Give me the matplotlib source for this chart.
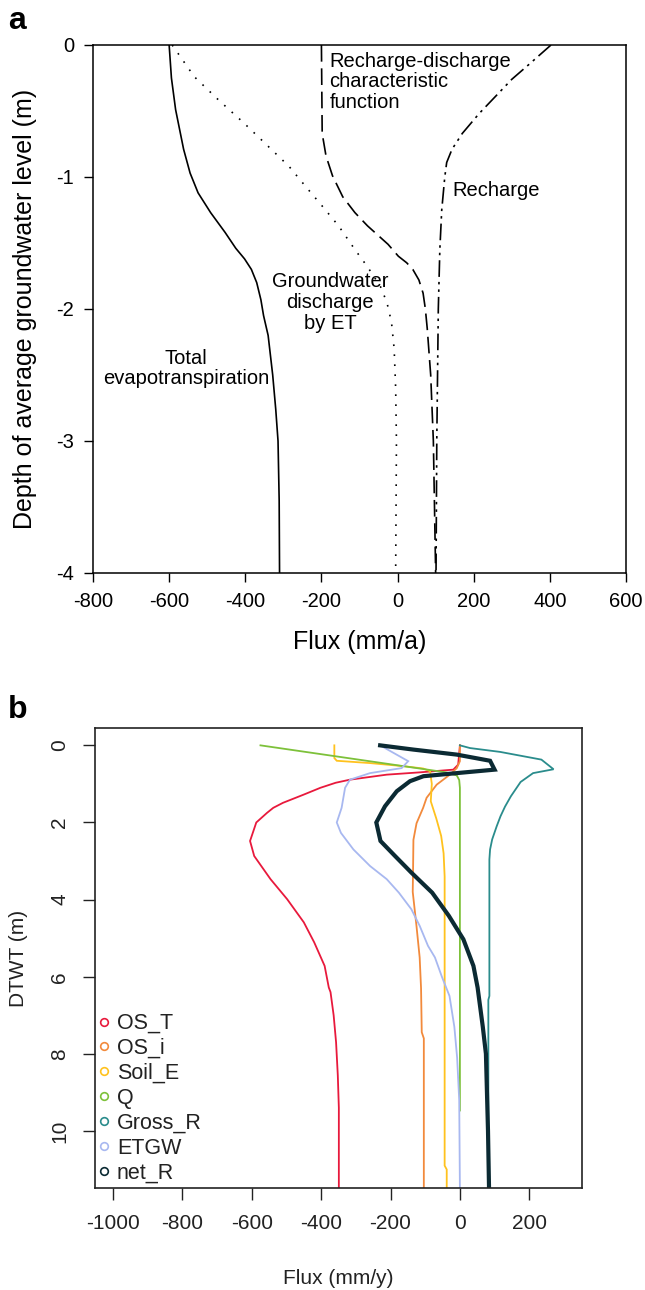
import matplotlib
matplotlib.use("Agg")
import matplotlib.pyplot as plt
from matplotlib.lines import Line2D

plt.rcParams['font.family'] = ['Liberation Sans', 'DejaVu Sans']
plt.rcParams['axes.unicode_minus'] = False

# ---------------- Panel a data ----------------
et_depth = [0, -0.25, -0.49, -0.79, -0.97, -1.12, -1.27, -1.42, -1.54, -1.62, -1.70, -1.80,
            -1.93, -2.05, -2.2, -2.5, -2.76, -3.0, -3.45, -4.0]
et_flux = [-600, -594, -583, -562, -545, -524, -491, -453, -425, -402, -384, -370,
           -359, -352, -340, -328, -320, -314, -311, -310]

gwet_depth = [0, -0.24, -0.42, -0.59, -0.77, -0.92, -1.07, -1.22, -1.37, -1.55, -1.68,
              -1.83, -1.95, -2.1, -2.3, -2.6, -3.0, -3.5, -4.0]
gwet_flux = [-592, -534, -469, -404, -339, -285, -242, -198, -155, -112, -79,
             -45, -28, -16, -9, -5, -3, -4, -5]

rdc_depth = [0, -0.67, -0.84, -0.99, -1.15, -1.27, -1.37, -1.44, -1.51, -1.60, -1.65,
             -1.70, -1.78, -1.88, -2.0, -2.15, -2.5, -3.0, -4.0]
rdc_flux = [-200, -198, -188, -171, -144, -112, -79, -52, -25, 2, 24,
            40, 56, 67, 73, 78, 87, 94, 100]

rech_depth = [0, -0.15, -0.26, -0.39, -0.52, -0.67, -0.79, -0.89, -1.0, -1.25, -1.55,
              -2.0, -3.0, -4.0]
rech_flux = [403, 344, 300, 257, 214, 170, 143, 129, 124, 116, 111,
             107, 103, 101]

a_xticks = [-800, -600, -400, -200, 0, 200, 400, 600]
a_yticks = [0, -1, -2, -3, -4]

# ---------------- Panel b data ----------------
ost_depth = [0, 0.5, 0.63, 0.70, 0.76, 0.89, 0.97, 1.1, 1.28, 1.49, 1.62, 1.75, 2.0, 2.48,
             2.87, 3.47, 3.99, 4.59, 5.11, 5.72, 6.28, 6.4, 7.0, 7.7, 8.56, 9.4, 11.5]
ost_flux = [0, -5, -19, -115, -211, -317, -358, -402, -451, -510, -538, -556, -587, -605,
            -593, -546, -498, -450, -420, -390, -378, -373, -364, -357, -352, -349, -349]

osi_depth = [0, 0.41, 0.59, 0.76, 1.02, 1.36, 1.62, 2.02, 2.45, 3.2, 3.8, 4.7, 5.5, 6.3,
             7.44, 7.6, 11.5]
osi_flux = [0, 0, -9, -29, -67, -96, -106, -125, -134, -135, -136, -125, -116, -112,
            -110, -104, -104]

soil_depth = [0, 0.33, 0.40, 0.46, 0.54, 0.60, 0.67, 1.0, 1.45, 1.9, 2.35, 2.8, 3.4,
              10.9, 11.0, 11.5]
soil_flux = [-362, -362, -355, -259, -163, -106, -86, -81, -84, -68, -54, -47, -44,
             -44, -38, -38]

q_depth = [0, 0.70, 0.78, 0.9, 1.1, 9.47]
q_flux = [-575, -40, -9, -2, 0, 0]

gross_depth = [0, 0.07, 0.17, 0.37, 0.62, 0.72, 0.95, 1.32, 1.59, 1.84, 2.1, 2.44, 2.7,
               2.96, 6.5, 6.6, 11.5]
gross_flux = [0, 29, 116, 235, 270, 211, 175, 147, 130, 117, 106, 93, 87,
              85, 85, 82, 82]

etgw_depth = [0, 0.41, 0.59, 0.72, 0.89, 1.1, 1.62, 2.0, 2.27, 2.7, 3.13, 3.47, 3.82,
              4.25, 4.68, 5.2, 5.5, 6.0, 6.5, 7.3, 8.1, 9.2, 11.5]
etgw_flux = [-230, -149, -168, -259, -317, -331, -341, -355, -343, -307, -259, -211, -176,
             -140, -116, -92, -72, -52, -30, -16, -8, -2, 0]

netr_depth = [0, 0.11, 0.24, 0.40, 0.63, 0.72, 0.80, 0.93, 1.19, 1.58, 2.0, 2.48, 2.87,
              3.3, 3.82, 4.42, 5.03, 5.72, 6.28, 7.3, 8.0, 9.0, 10.0, 11.5]
netr_flux = [-230, -134, -9, 87, 100, -9, -105, -144, -182, -216, -241, -229, -187,
             -140, -80, -32, 10, 39, 51, 66, 75, 78, 81, 84]

b_names = ['OS_T', 'OS_i', 'Soil_E', 'Q', 'Gross_R', 'ETGW', 'net_R']
b_colors = ['#E8193C', '#F28A3C', '#FFC21E', '#7DC13A', '#2A8C8C', '#A8B8F0', '#0B2A33']
b_xticks = [-1000, -800, -600, -400, -200, 0, 200]
b_yticks = [0, 2, 4, 6, 8, 10]

# ---------------- Figure ----------------
W, H = 645, 1290
fig = plt.figure(figsize=(W / 100, H / 100), dpi=100)

def rect(l, t, r, b):
    return [l / W, 1 - b / H, (r - l) / W, (b - t) / H]

# Panel a
axa = fig.add_axes(rect(93, 45, 626, 573))
axa.plot(et_flux, et_depth, color='black', lw=1.2, ls='-')
axa.plot(gwet_flux, gwet_depth, color='black', lw=1.2, ls=(0, (1, 5)))
axa.plot(rdc_flux, rdc_depth, color='black', lw=1.2, ls=(0, (10, 4)))
axa.plot(rech_flux, rech_depth, color='black', lw=1.2, ls=(0, (10, 3, 1.5, 3, 1.5, 3)))
axa.set_xlim(-800, 600)
axa.set_ylim(-4, 0)
axa.set_xticks(a_xticks)
axa.set_yticks(a_yticks)
axa.tick_params(direction='out', length=6.5, width=1.0, labelsize=14.5, pad=7, colors='black')
for s in axa.spines.values():
    s.set_linewidth(1.1)
axa.set_xlabel('Flux (mm/a)', fontsize=18, labelpad=14)
axa.set_ylabel('Depth of average groundwater level (m)', fontsize=18, labelpad=14)

tk = dict(fontsize=14.5, linespacing=1.12, color='black')
axa.text(-179, -0.05, 'Recharge-discharge\ncharacteristic\nfunction', ha='left', va='top', **tk)
axa.text(143, -1.1, 'Recharge', ha='left', va='center', **tk)
axa.text(-177, -1.95, 'Groundwater\ndischarge\nby ET', ha='center', va='center', **tk)
axa.text(-556, -2.45, 'Total\nevapotranspiration', ha='center', va='center', **tk)
fig.text(17 / W, 1 - 21 / H, 'a', fontsize=23, fontweight='bold', ha='center', va='center')

# Panel b
axb = fig.add_axes(rect(95, 728, 582, 1188))
series = [(ost_flux, ost_depth), (osi_flux, osi_depth), (soil_flux, soil_depth),
          (q_flux, q_depth), (gross_flux, gross_depth), (etgw_flux, etgw_depth),
          (netr_flux, netr_depth)]
for i, (fx, dp) in enumerate(series):
    lw = 3.0 if b_names[i] == 'net_R' else 1.3
    axb.plot(fx, dp, color=b_colors[i], lw=lw, solid_joinstyle='miter')
axb.set_xlim(-1052, 352)
axb.set_ylim(11.48, -0.45)
axb.set_xticks(b_xticks)
axb.set_yticks(b_yticks)
tc = '#222222'
axb.tick_params(direction='out', length=8.6, width=1.0, labelsize=15, colors=tc, pad=10)
for lab in axb.get_yticklabels():
    lab.set_rotation(90)
    lab.set_va('center')
for s in axb.spines.values():
    s.set_linewidth(1.2)
    s.set_color('#222222')
axb.set_xlabel('Flux (mm/y)', fontsize=15, color=tc, labelpad=26)
axb.set_ylabel('DTWT (m)', fontsize=15, color=tc, labelpad=16)

handles = [Line2D([], [], ls='none', marker='o', mfc='none', mec=c, mew=1.2, ms=5.5)
           for c in b_colors]
axb.legend(handles, b_names, loc='lower left', bbox_to_anchor=(0.003, 0.01),
           frameon=False, fontsize=15.5, handlelength=0.7, handletextpad=0.25,
           labelspacing=0.18, borderpad=0, borderaxespad=0, labelcolor=tc)
fig.text(18 / W, 1 - 710 / H, 'b', fontsize=23, fontweight='bold', ha='center', va='center')

fig.savefig('out.png', dpi=100)
